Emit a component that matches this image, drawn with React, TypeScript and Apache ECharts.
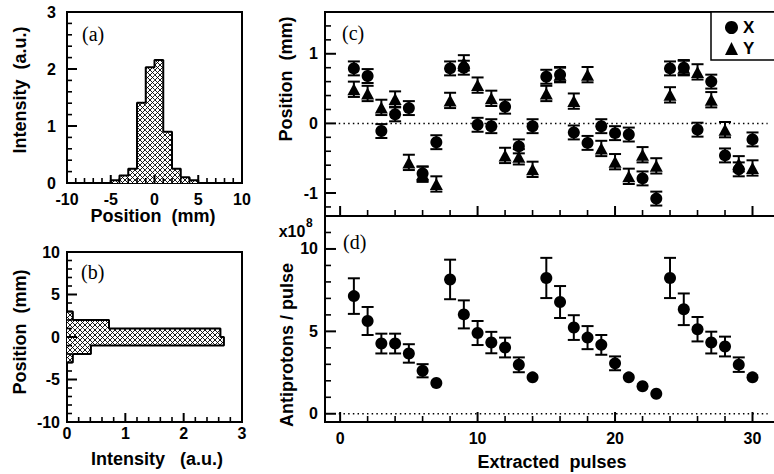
import React, { useEffect, useRef } from 'react';
import * as echarts from 'echarts';

// ---------- data ----------
const pulses = [1, 2, 3, 4, 5, 6, 7, 8, 9, 10, 11, 12, 13, 14, 15, 16, 17, 18, 19, 20, 21, 22, 23, 24, 25, 26, 27, 28, 29, 30];
const posX = [0.79, 0.68, -0.11, 0.13, 0.22, -0.72, -0.27, 0.79, 0.8, -0.02, -0.04, 0.24, -0.33, -0.04, 0.67, 0.7, -0.13, -0.28, -0.04, -0.14, -0.16, -0.79, -1.08, 0.79, 0.8, -0.09, 0.6, -0.46, -0.66, -0.23];
const posY = [0.49, 0.43, 0.23, 0.35, -0.56, -0.73, -0.87, 0.33, 0.87, 0.55, 0.36, -0.46, -0.48, -0.66, 0.43, 0.7, 0.32, 0.7, -0.36, -0.55, -0.76, -0.45, -0.61, 0.41, 0.8, 0.74, 0.34, -0.09, -0.58, -0.64];
const errX = [0.1, 0.1, 0.1, 0.1, 0.1, 0.1, 0.1, 0.1, 0.1, 0.1, 0.1, 0.1, 0.1, 0.1, 0.1, 0.1, 0.1, 0.1, 0.1, 0.1, 0.1, 0.1, 0.1, 0.1, 0.1, 0.1, 0.1, 0.1, 0.1, 0.1];
const errY = [0.11, 0.11, 0.11, 0.11, 0.11, 0.11, 0.11, 0.11, 0.11, 0.11, 0.11, 0.11, 0.11, 0.11, 0.11, 0.11, 0.11, 0.11, 0.11, 0.11, 0.11, 0.11, 0.11, 0.11, 0.11, 0.11, 0.11, 0.11, 0.11, 0.11];
const antiprotons = [7.14, 5.63, 4.26, 4.26, 3.66, 2.61, 1.87, 8.15, 6.03, 4.9, 4.32, 4.02, 2.97, 2.21, 8.24, 6.78, 5.23, 4.62, 4.18, 3.06, 2.21, 1.67, 1.21, 8.24, 6.34, 5.13, 4.32, 4.08, 2.98, 2.21];
const antiErr = [1.08, 0.85, 0.6, 0.6, 0.56, 0.4, 0, 1.2, 0.85, 0.73, 0.65, 0.6, 0.45, 0, 1.22, 0.97, 0.75, 0.7, 0.6, 0.42, 0, 0, 0, 1.22, 0.96, 0.74, 0.66, 0.6, 0.44, 0];

const histAEdges = [-5, -4, -3, -2, -1, 0, 1, 2, 3, 4, 5];
const histAValues = [0.05, 0.13, 0.25, 1.41, 2.03, 2.16, 0.9, 0.25, 0.1, 0.05];
const histBEdges = [-3, -2, -1, 0, 1, 2, 3];
const histBValues = [0.1, 0.41, 2.69, 2.63, 0.72, 0.1];

// axis ranges and tick values
const aXRange = [-10, 10];
const aYRange = [0, 3];
const bXRange = [0, 3];
const bYRange = [-10, 10];
const pulseRange = [-1.1, 32];
const posRange = [-1.33, 1.6];
const antiRange = [-0.5, 12];

const aXMajorTicks = [-10, -5, 0, 5, 10];
const aXMinorTicks = [-9, -8, -7, -6, -4, -3, -2, -1, 1, 2, 3, 4, 6, 7, 8, 9];
const aYMajorTicks = [0, 1, 2, 3];
const aYMinorTicks = [0.2, 0.4, 0.6, 0.8, 1.2, 1.4, 1.6, 1.8, 2.2, 2.4, 2.6, 2.8];
const bXMajorTicks = [0, 1, 2, 3];
const bXMinorTicks = [0.2, 0.4, 0.6, 0.8, 1.2, 1.4, 1.6, 1.8, 2.2, 2.4, 2.6, 2.8];
const bYMajorTicks = [-10, -5, 0, 5, 10];
const bYMinorTicks = [-9, -8, -7, -6, -4, -3, -2, -1, 1, 2, 3, 4, 6, 7, 8, 9];
const pulseMajorTicks = [0, 10, 20, 30];
const pulseMinorTicks = [2, 4, 6, 8, 12, 14, 16, 18, 22, 24, 26, 28];
const posMajorTicks = [-1, 0, 1];
const posMinorTicks = [-1.2, -0.8, -0.6, -0.4, -0.2, 0.2, 0.4, 0.6, 0.8, 1.2, 1.4];
const antiMajorTicks = [0, 5, 10];
const antiMinorTicks = [1, 2, 3, 4, 6, 7, 8, 9, 11];
const zeroLineSpan = [-0.1, 31.1];

// ---------- style ----------
const SANS = "'Liberation Sans', Arial, Helvetica, sans-serif";
const SERIF = "'Liberation Serif', 'Times New Roman', serif";
const BLACK = '#000';
const labelStyle = { color: BLACK, fontFamily: SANS, fontWeight: 'bold' as const, fontSize: 16 };

function makeHatch() {
  const s = 5;
  const c = document.createElement('canvas');
  c.width = s;
  c.height = s;
  const ctx = c.getContext('2d')!;
  ctx.fillStyle = '#fff';
  ctx.fillRect(0, 0, s, s);
  ctx.strokeStyle = '#000';
  ctx.lineWidth = 0.9;
  ctx.beginPath();
  for (const off of [-s, 0, s]) {
    ctx.moveTo(off, 0);
    ctx.lineTo(off + s, s);
    ctx.moveTo(off + s, 0);
    ctx.lineTo(off, s);
  }
  ctx.stroke();
  return { image: c, repeat: 'repeat', imageWidth: s, imageHeight: s };
}

function errRender(params: any, api: any) {
  const x = api.value(0);
  const y = api.value(1);
  const e = api.value(2);
  if (!e) return { type: 'group', children: [] };
  const top = api.coord([x, y + e]);
  const bot = api.coord([x, y - e]);
  const hw = 6;
  const st = { stroke: BLACK, lineWidth: 2 };
  return {
    type: 'group',
    children: [
      { type: 'line', shape: { x1: top[0], y1: top[1], x2: bot[0], y2: bot[1] }, style: st },
      { type: 'line', shape: { x1: top[0] - hw, y1: top[1], x2: top[0] + hw, y2: top[1] }, style: st },
      { type: 'line', shape: { x1: bot[0] - hw, y1: bot[1], x2: bot[0] + hw, y2: bot[1] }, style: st },
    ],
  };
}

// inward tick marks placed through the axes' own scales
function tickSeries(axisIdx: number, dir: 'x' | 'y', values: number[], edge: number, len: number, width: number) {
  return {
    type: 'custom',
    xAxisIndex: axisIdx,
    yAxisIndex: axisIdx,
    silent: true,
    clip: false,
    z: 4,
    data: values.map((v) => (dir === 'x' ? [v, edge] : [edge, v])),
    renderItem: (p: any, api: any) => {
      const pt = api.coord([api.value(0), api.value(1)]);
      const shape = dir === 'x'
        ? { x1: pt[0], y1: pt[1], x2: pt[0], y2: pt[1] - len }
        : { x1: pt[0], y1: pt[1], x2: pt[0] + len, y2: pt[1] };
      return { type: 'line', shape, style: { stroke: BLACK, lineWidth: width } };
    },
  };
}

function buildOption() {
  const hatch = makeHatch();

  const histAData = histAValues.map((v, i) => [histAEdges[i], histAEdges[i + 1], v]);
  const histBData = histBValues.map((v, i) => [v, histBEdges[i], histBEdges[i + 1]]);

  const outlineA: number[][] = [[histAEdges[0], 0]];
  histAValues.forEach((v, i) => {
    outlineA.push([histAEdges[i], v]);
    outlineA.push([histAEdges[i + 1], v]);
  });
  outlineA.push([histAEdges[histAEdges.length - 1], 0]);

  const outlineB: number[][] = [[0, histBEdges[0]]];
  histBValues.forEach((v, i) => {
    outlineB.push([v, histBEdges[i]]);
    outlineB.push([v, histBEdges[i + 1]]);
  });
  outlineB.push([0, histBEdges[histBEdges.length - 1]]);

  const gridBase = { show: true, borderColor: BLACK, borderWidth: 2, containLabel: false, outerBoundsMode: 'none' };

  const axis = (extra: any) => ({
    type: 'value',
    axisLine: { show: false, onZero: false },
    splitLine: { show: false },
    axisTick: { show: false },
    minorTick: { show: false },
    ...extra,
  });

  const grids = [
    { ...gridBase, left: 67, top: 12, width: 175, height: 171 },
    { ...gridBase, left: 67, top: 252, width: 175, height: 170 },
    { ...gridBase, left: 325, top: 12, width: 455, height: 204 },
    { ...gridBase, left: 325, top: 216, width: 455, height: 206 },
  ];

  const xAxes = [
    axis({
      gridIndex: 0, position: 'bottom', min: aXRange[0], max: aXRange[1], interval: 5,
      axisLabel: { ...labelStyle, margin: 8, showMinLabel: true, showMaxLabel: true },
    }),
    axis({
      gridIndex: 1, position: 'bottom', min: bXRange[0], max: bXRange[1], interval: 1,
      axisLabel: { ...labelStyle, margin: 3, showMinLabel: true, showMaxLabel: true },
    }),
    axis({
      gridIndex: 2, position: 'bottom', min: pulseRange[0], max: pulseRange[1],
      axisLabel: { show: false },
    }),
    axis({
      gridIndex: 3, position: 'bottom', min: pulseRange[0], max: pulseRange[1],
      axisLabel: { ...labelStyle, margin: 8, customValues: pulseMajorTicks },
    }),
  ];

  const yAxes = [
    axis({
      gridIndex: 0, position: 'left', min: aYRange[0], max: aYRange[1], interval: 1,
      axisLabel: { ...labelStyle, margin: 11, showMinLabel: true, showMaxLabel: true },
    }),
    axis({
      gridIndex: 1, position: 'left', min: bYRange[0], max: bYRange[1], interval: 5,
      axisLabel: { ...labelStyle, margin: 7, showMinLabel: true, showMaxLabel: true },
    }),
    axis({
      gridIndex: 2, position: 'left', min: posRange[0], max: posRange[1],
      axisLabel: { ...labelStyle, margin: 7, customValues: posMajorTicks },
    }),
    axis({
      gridIndex: 3, position: 'left', min: antiRange[0], max: antiRange[1],
      axisLabel: { ...labelStyle, margin: 7, customValues: antiMajorTicks },
    }),
  ];

  const dotted = { color: BLACK, width: 1.5, type: [1.5, 3.2] };
  const markerStyle = { color: BLACK, opacity: 1 };

  const series: any[] = [
    {
      type: 'custom', xAxisIndex: 0, yAxisIndex: 0, data: histAData, silent: true,
      renderItem: (p: any, api: any) => {
        const a = api.coord([api.value(0), api.value(2)]);
        const b = api.coord([api.value(1), 0]);
        return { type: 'rect', shape: { x: a[0], y: a[1], width: b[0] - a[0], height: b[1] - a[1] }, style: { fill: hatch, stroke: null } };
      },
    },
    {
      type: 'line', xAxisIndex: 0, yAxisIndex: 0, data: outlineA, symbol: 'none', silent: true,
      lineStyle: { color: BLACK, width: 2 },
    },
    {
      type: 'custom', xAxisIndex: 1, yAxisIndex: 1, data: histBData, silent: true,
      renderItem: (p: any, api: any) => {
        const a = api.coord([0, api.value(2)]);
        const b = api.coord([api.value(0), api.value(1)]);
        return { type: 'rect', shape: { x: a[0], y: a[1], width: b[0] - a[0], height: b[1] - a[1] }, style: { fill: hatch, stroke: null } };
      },
    },
    {
      type: 'line', xAxisIndex: 1, yAxisIndex: 1, data: outlineB, symbol: 'none', silent: true,
      lineStyle: { color: BLACK, width: 2 },
    },
    {
      type: 'line', xAxisIndex: 2, yAxisIndex: 2, data: zeroLineSpan.map((x) => [x, 0]), symbol: 'none', silent: true,
      lineStyle: dotted,
    },
    {
      type: 'custom', xAxisIndex: 2, yAxisIndex: 2, silent: true,
      data: pulses.map((n, i) => [n, posX[i], errX[i]]), renderItem: errRender,
    },
    {
      type: 'custom', xAxisIndex: 2, yAxisIndex: 2, silent: true,
      data: pulses.map((n, i) => [n, posY[i], errY[i]]), renderItem: errRender,
    },
    {
      name: 'X', type: 'scatter', xAxisIndex: 2, yAxisIndex: 2, symbol: 'circle', symbolSize: 12,
      itemStyle: markerStyle, data: pulses.map((n, i) => [n, posX[i]]),
    },
    {
      name: 'Y', type: 'scatter', xAxisIndex: 2, yAxisIndex: 2, symbol: 'triangle', symbolSize: [13, 12],
      itemStyle: markerStyle, data: pulses.map((n, i) => [n, posY[i]]),
    },
    {
      type: 'line', xAxisIndex: 3, yAxisIndex: 3, data: zeroLineSpan.map((x) => [x, 0]), symbol: 'none', silent: true,
      lineStyle: dotted,
    },
    {
      type: 'custom', xAxisIndex: 3, yAxisIndex: 3, silent: true,
      data: pulses.map((n, i) => [n, antiprotons[i], antiErr[i]]), renderItem: errRender,
    },
    {
      name: 'Antiprotons', type: 'scatter', xAxisIndex: 3, yAxisIndex: 3, symbol: 'circle', symbolSize: 12,
      itemStyle: markerStyle, data: pulses.map((n, i) => [n, antiprotons[i]]),
    },
    // tick marks
    tickSeries(0, 'x', aXMajorTicks, aYRange[0], 8, 2),
    tickSeries(0, 'x', aXMinorTicks, aYRange[0], 5, 1.6),
    tickSeries(0, 'y', aYMajorTicks, aXRange[0], 10, 2),
    tickSeries(0, 'y', aYMinorTicks, aXRange[0], 5, 1.6),
    tickSeries(1, 'x', bXMajorTicks, bYRange[0], 9, 2),
    tickSeries(1, 'x', bXMinorTicks, bYRange[0], 5, 1.6),
    tickSeries(1, 'y', bYMajorTicks, bXRange[0], 10, 2),
    tickSeries(1, 'y', bYMinorTicks, bXRange[0], 5, 1.6),
    tickSeries(2, 'x', pulseMajorTicks, posRange[0], 10, 2),
    tickSeries(2, 'x', pulseMinorTicks, posRange[0], 6, 1.6),
    tickSeries(2, 'y', posMajorTicks, pulseRange[0], 11, 2),
    tickSeries(2, 'y', posMinorTicks, pulseRange[0], 6, 1.6),
    tickSeries(3, 'x', pulseMajorTicks, antiRange[0], 10, 2),
    tickSeries(3, 'x', pulseMinorTicks, antiRange[0], 6, 1.6),
    tickSeries(3, 'y', antiMajorTicks, pulseRange[0], 11, 2),
    tickSeries(3, 'y', antiMinorTicks, pulseRange[0], 6, 1.6),
  ];

  const title = (text: string, x: number, y: number, vertical: boolean) => ({
    type: 'text', x, y, rotation: vertical ? Math.PI / 2 : 0, silent: true,
    style: {
      text, fill: BLACK, fontFamily: SANS, fontWeight: 'bold', fontSize: 18,
      align: 'center', verticalAlign: 'middle', textAlign: 'center', textVerticalAlign: 'middle',
    },
  });
  const panel = (text: string, x: number, y: number) => ({
    type: 'text', x, y, silent: true,
    style: {
      text, fill: BLACK, fontFamily: SERIF, fontSize: 20,
      align: 'left', verticalAlign: 'middle', textAlign: 'left', textVerticalAlign: 'middle',
    },
  });

  const graphic = [
    title('Intensity  (a.u.)', 20, 90, true),
    title('Position  (mm)', 153, 216, false),
    title('Position  (mm)', 20, 332, true),
    title('Intensity   (a.u.)', 157, 459, false),
    title('Position  (mm)', 286, 79, true),
    title('Antiprotons / pulse', 287, 345, true),
    title('Extracted  pulses', 552, 462, false),
    panel('(a)', 82, 34),
    panel('(b)', 81, 272),
    panel('(c)', 342, 33),
    panel('(d)', 343, 242),
    {
      type: 'text', x: 292, y: 231, silent: true,
      style: { text: 'x10', fill: BLACK, fontFamily: SANS, fontWeight: 'bold', fontSize: 16, align: 'center', verticalAlign: 'middle', textAlign: 'center', textVerticalAlign: 'middle' },
    },
    {
      type: 'text', x: 306, y: 223, silent: true,
      style: { text: '8', fill: BLACK, fontFamily: SANS, fontWeight: 'bold', fontSize: 12, align: 'left', verticalAlign: 'middle', textAlign: 'left', textVerticalAlign: 'middle' },
    },
  ];

  return {
    animation: false,
    backgroundColor: '#fff',
    grid: grids,
    xAxis: xAxes,
    yAxis: yAxes,
    legend: {
      data: ['X', 'Y'],
      orient: 'vertical',
      left: 711,
      top: 12,
      borderColor: BLACK,
      borderWidth: 1.5,
      backgroundColor: '#fff',
      padding: [7, 30, 3, 14],
      itemGap: 4,
      itemWidth: 13,
      itemHeight: 13,
      selectedMode: false,
      textStyle: { color: BLACK, fontFamily: SANS, fontWeight: 'bold', fontSize: 17 },
    },
    graphic,
    series,
  };
}

export default function App() {
  const ref = useRef<HTMLDivElement>(null);
  useEffect(() => {
    const chart = echarts.init(ref.current!, null, { renderer: 'svg' });
    chart.setOption(buildOption() as any);
    return () => chart.dispose();
  }, []);
  return (
    <div
      ref={ref}
      style={{ position: 'absolute', left: 0, top: 0, width: 774, height: 474, background: '#fff' }}
    />
  );
}
